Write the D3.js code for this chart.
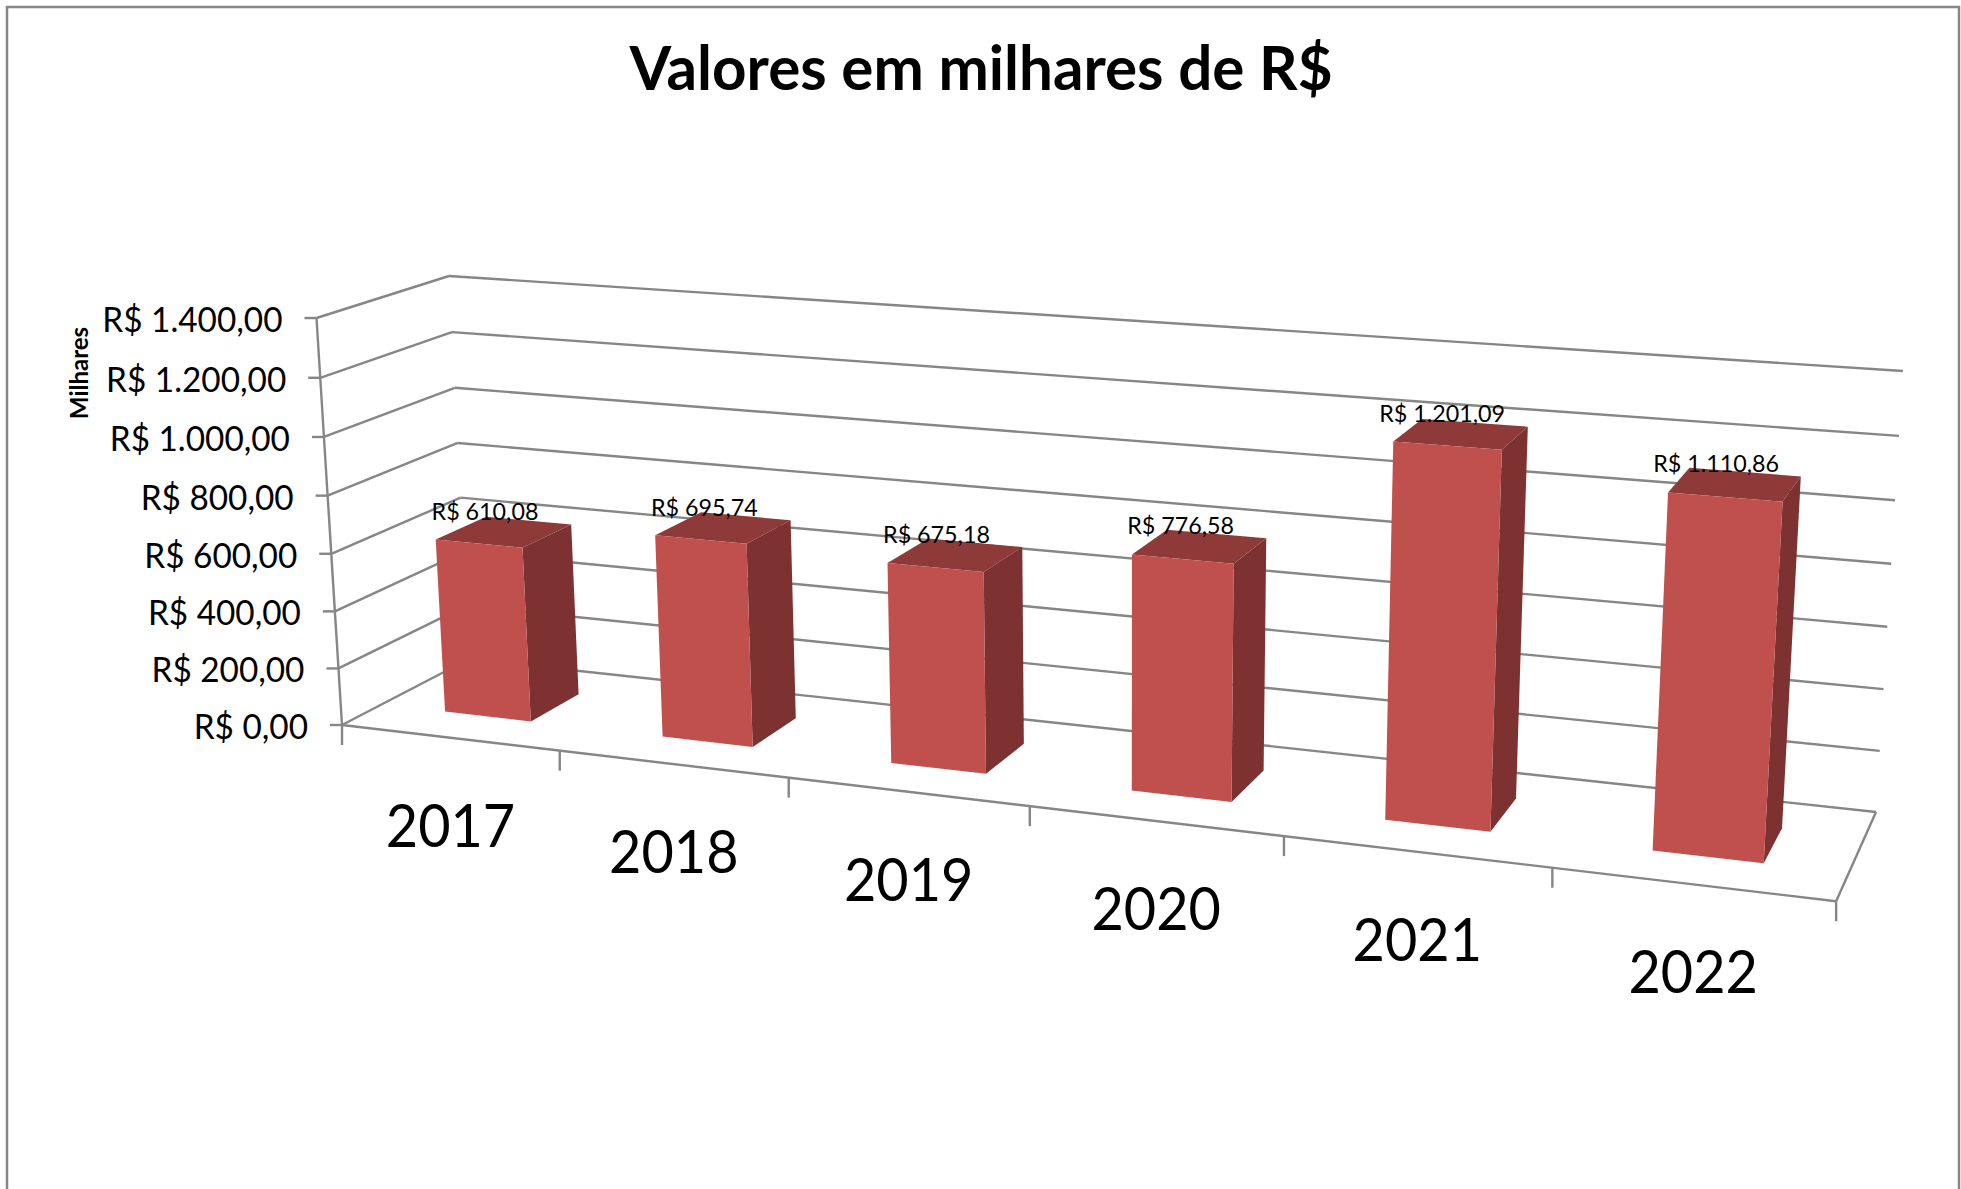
<!DOCTYPE html>
<html>
<head>
<meta charset="utf-8">
<script src="https://d3js.org/d3.v7.min.js"></script>
<style>
  html, body { margin: 0; padding: 0; background: #fff; overflow: hidden; }
  text { font-family: Lato, "Open Sans", sans-serif; fill: #000; }
</style>
</head>
<body>
<svg id="chart"></svg>
<script>
// Data
const years = ["2017", "2018", "2019", "2020", "2021", "2022"];
const values = [610.08, 695.74, 675.18, 776.58, 1201.09, 1110.86];
const valueLabels = ["R$ 610,08", "R$ 695,74", "R$ 675,18", "R$ 776,58", "R$ 1.201,09", "R$ 1.110,86"];
const yTicks = [0, 200, 400, 600, 800, 1000, 1200, 1400];
const yTickLabels = ["R$ 0,00", "R$ 200,00", "R$ 400,00", "R$ 600,00", "R$ 800,00", "R$ 1.000,00", "R$ 1.200,00", "R$ 1.400,00"];

const W = 1961, H = 1189;
const GREY = "#868686";

const svg = d3.select("#chart").attr("width", W).attr("height", H);

// Scales go to unit cube, the camera below puts the cube on screen
const x = d3.scaleBand().domain(years).range([0, 1]).paddingInner(0.6).paddingOuter(0.3);
const y = d3.scaleLinear().domain([0, 1400]).range([0, 1]);
const depth = d3.scaleLinear().domain([0, 1]).range([0.3, 0.7]);

// Perspective camera, corners
const O = [469, 659], X = [1876, 812], Y = [449, 276], Z = [342, 725]; // back-floor-left, then end of each edge
const ex = 0.8621, ey = 0.9703, ez = 0.938; // depth weights

function project(u, v, w) {
    const d = 1 + u * (ex - 1) + v * (ey - 1) + w * (ez - 1);
    return [0, 1].map(k =>
        (O[k] + u * (ex * X[k] - O[k]) + v * (ey * Y[k] - O[k]) + w * (ez * Z[k] - O[k])) / d);
}

const line = d3.line();

function edge(a, b) {
    svg.append("path")
        .attr("d", line([project(...a), project(...b)]))
        .attr("fill", "none")
        .attr("stroke", GREY)
        .attr("stroke-width", 2.4);
}

// Squeeze Lato down to the narrower look of the original face
function squeeze(sel, k) {
    sel.each(function() {
        this.setAttribute("textLength", this.getComputedTextLength() * k);
        this.setAttribute("lengthAdjust", "spacingAndGlyphs");
    });
}

// Outer frame, its bottom edge is cut off in the picture
svg.append("rect")
    .attr("x", 7).attr("y", 7)
    .attr("width", 1952).attr("height", H + 50)
    .attr("fill", "#fff")
    .attr("stroke", GREY)
    .attr("stroke-width", 2.5);

// Gridlines on back wall and left wall
yTicks.forEach(t => {
    const v = y(t);
    edge([0, v, 0], [1, v, 0]);
    edge([0, v, 0], [0, v, 1]);
});

// Floor edges and value axis
edge([0, 0, 1], [1, 0, 1]);
edge([1, 0, 0], [1, 0, 1]);
edge([0, 0, 1], [0, 1, 1]);

// Value axis ticks and labels
yTicks.forEach((t, i) => {
    const p = project(0, y(t), 1);
    svg.append("path")
        .attr("d", line([p, [p[0] - 12, p[1]]]))
        .attr("stroke", GREY)
        .attr("stroke-width", 2.4);
    svg.append("text")
        .attr("x", p[0] - 34)
        .attr("y", p[1] + 14)
        .attr("text-anchor", "end")
        .style("font-size", "34px")
        .text(yTickLabels[i])
        .call(squeeze, 0.98);
});

// Category ticks
d3.range(years.length + 1).forEach(i => {
    const p = project(i * x.step(), 0, 1);
    svg.append("path")
        .attr("d", line([p, [p[0], p[1] + 20]]))
        .attr("stroke", GREY)
        .attr("stroke-width", 2.4);
});

// Bars
const bars = svg.selectAll(".bar")
    .data(years.map((year, i) => ({year, value: values[i], label: valueLabels[i]})))
    .join("g")
    .attr("class", "bar");

function face(corners) {
    return line(corners.map(c => project(...c))) + "Z";
}

const front = depth(1), back = depth(0);

bars.append("path") // top
    .attr("fill", "#8e3a38")
    .attr("d", d => {
        const a = x(d.year), b = a + x.bandwidth(), v = y(d.value);
        return face([[a, v, front], [b, v, front], [b, v, back], [a, v, back]]);
    });

bars.append("path") // side
    .attr("fill", "#7d3130")
    .attr("d", d => {
        const b = x(d.year) + x.bandwidth(), v = y(d.value);
        return face([[b, 0, front], [b, v, front], [b, v, back], [b, 0, back]]);
    });

bars.append("path") // front
    .attr("fill", "#c0504d")
    .attr("d", d => {
        const a = x(d.year), b = a + x.bandwidth(), v = y(d.value);
        return face([[a, 0, front], [b, 0, front], [b, v, front], [a, v, front]]);
    });

// Value labels sit over the middle of the bar top
bars.append("text")
    .attr("x", d => project(x(d.year) + x.bandwidth() / 2, y(d.value), 0.5)[0] - 19)
    .attr("y", d => project(x(d.year) + x.bandwidth() / 2, y(d.value), 0.5)[1] - 12)
    .attr("text-anchor", "middle")
    .style("font-size", "24px")
    .text(d => d.label)
    .call(squeeze, 0.97);

// Category labels
svg.selectAll(".year")
    .data(years)
    .join("text")
    .attr("class", "year")
    .attr("x", d => project(x(d) + x.bandwidth() / 2, 0, 1)[0] + 1)
    .attr("y", d => project(x(d) + x.bandwidth() / 2, 0, 1)[1] + 109)
    .attr("text-anchor", "middle")
    .style("font-size", "60px")
    .text(d => d)
    .call(squeeze, 0.93);

// Axis title
svg.append("text")
    .attr("transform", "translate(88,373) rotate(-90)")
    .attr("text-anchor", "middle")
    .style("font-size", "25px")
    .style("font-weight", "bold")
    .text("Milhares")
    .call(squeeze, 0.96);

// Chart title
svg.append("text")
    .attr("x", 981)
    .attr("y", 90)
    .attr("text-anchor", "middle")
    .style("font-size", "62px")
    .style("font-weight", "bold")
    .text("Valores em milhares de R$")
    .call(squeeze, 0.97);
</script>
</body>
</html>
